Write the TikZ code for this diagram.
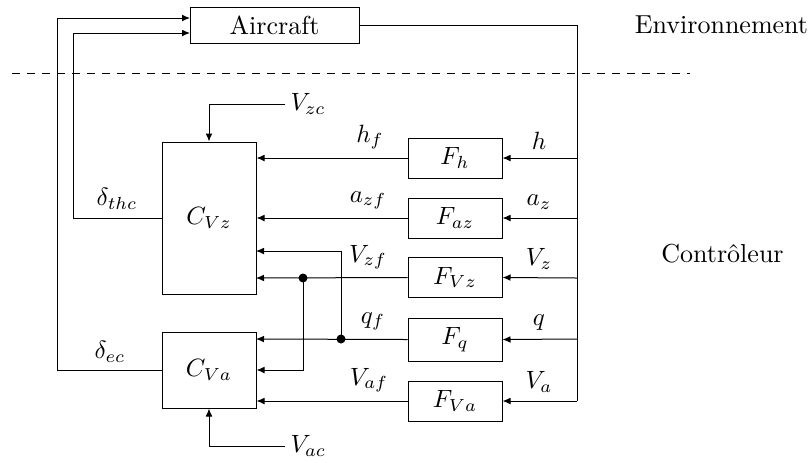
\documentclass[tikz,border=0pt]{standalone}
\usetikzlibrary{arrows.meta}
\begin{document}
\begin{tikzpicture}[x=0.4pt,y=-0.4pt,line width=0.4pt,
  font=\fontsize{10.4pt}{12.5pt}\selectfont,
  blk/.style={draw,minimum width=37.6pt,minimum height=16pt,inner sep=0pt},
  arr/.style={-{Latex[length=3.2pt,width=2.7pt]}},
  lbl/.style={above},
  dot/.style={fill,circle,inner sep=0pt,minimum size=3.6pt}]
\useasboundingbox (0,0) rectangle (812,462);

% blocks
\node[draw,minimum width=67.6pt,minimum height=14.4pt,inner sep=0pt] (ac) at (274.5,25) {Aircraft};
\node[blk] (Fh)  at (455,158) {$F_h$};
\node[blk] (Faz) at (455,218) {$F_{az}$};
\node[blk] (FVz) at (455,277.5) {$F_{Vz}$};
\node[blk,minimum height=17.2pt] (Fq)  at (455,339.5) {$F_q$};
\node[blk] (FVa) at (455,401) {$F_{Va}$};
\node[blk,minimum height=60.8pt] (CVz) at (209,218) {$C_{Vz}$};
\node[blk,minimum height=30.4pt] (CVa) at (209,370) {$C_{Va}$};

% region labels
\node[anchor=base] (env) at (721.5,33) {Environnement};
\node[anchor=base] (ctl) at (722.5,262) {Contr\^oleur};

% coordinates
\coordinate (dl) at (12,73);
\coordinate (dr) at (690,73);
\coordinate (busB) at (577,401);
\coordinate (b1) at (577,158);
\coordinate (b2) at (577,218);
\coordinate (b3) at (577,278);
\coordinate (b4) at (577,339);
\coordinate (b5) at (577,401);
\coordinate (ai1) at (190,18);
\coordinate (ai2) at (190,33);
\coordinate (k1) at (57,18);
\coordinate (k2) at (73,33);
\coordinate (vzc) at (285,104);
\coordinate (vac) at (285,446);
\coordinate (in3) at (256,251);
\coordinate (in4) at (256,278);
\coordinate (inq) at (256,339);
\node[dot] (d1) at (303,278) {};
\node[dot] (d2) at (341,339) {};

% separation line
\draw[dashed] (dl) -- (dr);

% aircraft output bus
\draw (ac.east) -| (busB);
\draw[arr] (b1) -- (Fh.east);
\draw[arr] (b2) -- (Faz.east);
\draw[arr] (b3) -- (FVz.east);
\draw[arr] (b4) -- (Fq.east);
\draw[arr] (b5) -- (FVa.east);

% filters to controllers
\draw[arr] (Fh.west) -- (Fh.west -| CVz.east);
\draw[arr] (Faz.west) -- (Faz.west -| CVz.east);
\draw[arr] (FVz.west) -- (in4);
\draw[arr] (Fq.west) -- (inq);
\draw[arr] (FVa.west) -- (FVa.west -| CVa.east);
\draw[arr] (d1.center) |- (CVa.east);
\draw[arr] (d2.center) |- (in3);

% references
\draw[arr] (vzc) -| (CVz.north);
\draw[arr] (vac) -| (CVa.south);
\node[right,inner sep=2pt] (lvzc) at (vzc) {$V_{zc}$};
\node[right,inner sep=2pt] (lvac) at (vac) {$V_{ac}$};

% controller outputs
\draw[arr] (CVz.west) -| (k2) -- (ai2);
\draw[arr] (CVa.west) -| (k1) -- (ai1);

% labels
\node[lbl] (lhf)  at (370,158) {$h_f$};
\node[lbl] (lazf) at (368,218) {$a_{zf}$};
\node[lbl] (lvzf) at (368,278) {$V_{zf}$};
\node[lbl] (lqf)  at (373,339) {$q_f$};
\node[lbl] (lvaf) at (369,401) {$V_{af}$};
\node[lbl] (lh)   at (539,158) {$h$};
\node[lbl] (laz)  at (539,218) {$a_z$};
\node[lbl] (lvz)  at (539,278) {$V_z$};
\node[lbl] (lq)   at (539,339) {$q$};
\node[lbl] (lva)  at (539,401) {$V_a$};
\node[lbl] (ldth) at (117,218) {$\delta_{thc}$};
\node[lbl] (ldec) at (110,371) {$\delta_{ec}$};
\end{tikzpicture}
\end{document}
